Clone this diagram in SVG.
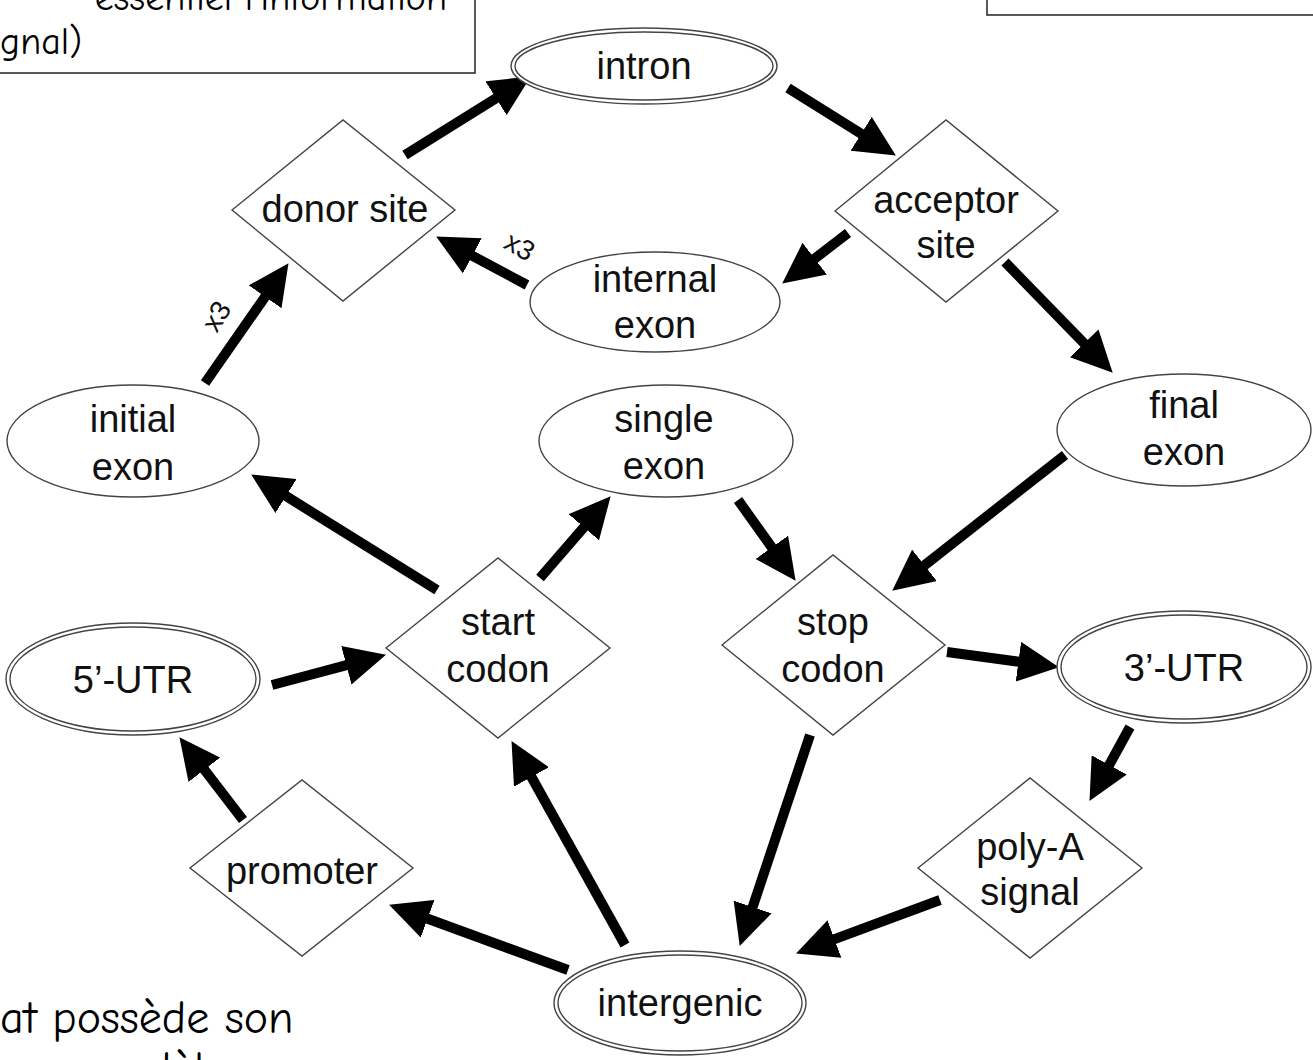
<svg xmlns="http://www.w3.org/2000/svg" width="1313" height="1060" viewBox="0 0 1313 1060">
<style>
.lbl{font-family:"Liberation Sans",Arial,sans-serif;font-size:38px;fill:#111;text-anchor:middle}
.shape{fill:#fff;stroke:#444;stroke-width:1.4}
.edge{stroke:#000;stroke-width:10;fill:none;marker-end:url(#ah)}
.note{font-family:"Comic Sans MS","Comic Neue","DejaVu Sans",sans-serif;font-size:38px;fill:#000}
.big{font-size:46px}
.mult{font-family:"Liberation Sans",Arial,sans-serif;font-size:28px;fill:#111;text-anchor:middle}
</style>
<defs>
<marker id="ah" markerUnits="userSpaceOnUse" markerWidth="42" markerHeight="40" refX="10" refY="20" orient="auto">
<path d="M0,0 L41,20 L0,40 Z" fill="#000"/>
</marker>
</defs>
<rect width="1313" height="1060" fill="#fff"/>
<g id="note-top-left">
<rect x="-2" y="-2" width="477" height="75" fill="#fff" stroke="#222" stroke-width="1.5"/>
<text class="note" x="447" y="10" text-anchor="end">essentiel l'information</text>
<text class="note" x="0" y="54">gnal)</text>
</g>
<g id="note-top-right">
<rect x="987" y="-2" width="330" height="17" fill="#fff" stroke="#222" stroke-width="1.5"/>
</g>
<g id="note-bottom-left">
<text class="note big" x="0" y="1033">at possède son</text>
<text class="note big" x="20" y="1084">un modèle</text>
</g>
<g id="connectors">
<line class="edge" x1="405" y1="155" x2="504.5" y2="92.9"/>
<line class="edge" x1="788" y1="88" x2="869.6" y2="139.1"/>
<line class="edge" x1="848" y1="233" x2="806.8" y2="264.7"/>
<line class="edge" x1="527" y1="285" x2="463.5" y2="251.1"/>
<line class="edge" x1="205" y1="383" x2="270.8" y2="288.6"/>
<line class="edge" x1="1005" y1="262" x2="1091.1" y2="350.5"/>
<line class="edge" x1="437" y1="590" x2="277.5" y2="490.8"/>
<line class="edge" x1="540" y1="578" x2="590.4" y2="519.7"/>
<line class="edge" x1="738" y1="500" x2="777.6" y2="555.5"/>
<line class="edge" x1="1065" y1="455" x2="916.6" y2="571.5"/>
<line class="edge" x1="272" y1="685" x2="356" y2="662.7"/>
<line class="edge" x1="947" y1="652" x2="1028.3" y2="663"/>
<line class="edge" x1="243" y1="820" x2="198.3" y2="761.8"/>
<line class="edge" x1="1130" y1="727" x2="1104.4" y2="773.7"/>
<line class="edge" x1="568" y1="970" x2="418.2" y2="915.3"/>
<line class="edge" x1="625" y1="945" x2="526.6" y2="768.2"/>
<line class="edge" x1="810" y1="735" x2="749.5" y2="916.5"/>
<line class="edge" x1="940" y1="900" x2="825.1" y2="942.6"/>
<text class="mult" transform="translate(216,316) rotate(-58)" y="10">x3</text>
<text class="mult" transform="translate(520,246) rotate(30)" y="10">x3</text>
</g>
<g id="intron">
<ellipse class="shape" cx="644" cy="66" rx="133" ry="38"/>
<ellipse class="shape" cx="644" cy="66" rx="129" ry="34"/>
<text class="lbl" x="644" y="79">intron</text>
</g>
<g id="donor-site">
<polygon class="shape" points="232,210 343,120 455,210 343,301"/>
<text class="lbl" x="345" y="222">donor site</text>
</g>
<g id="acceptor-site">
<polygon class="shape" points="835,211 946,120 1058,211 946,302"/>
<text class="lbl" x="946" y="213">acceptor</text>
<text class="lbl" x="946" y="258">site</text>
</g>
<g id="internal-exon">
<ellipse class="shape" cx="655" cy="302" rx="125" ry="50"/>
<text class="lbl" x="655" y="292">internal</text>
<text class="lbl" x="655" y="338">exon</text>
</g>
<g id="initial-exon">
<ellipse class="shape" cx="133" cy="441" rx="126" ry="56"/>
<text class="lbl" x="133" y="432">initial</text>
<text class="lbl" x="133" y="480">exon</text>
</g>
<g id="single-exon">
<ellipse class="shape" cx="666" cy="441" rx="127" ry="56"/>
<text class="lbl" x="664" y="432">single</text>
<text class="lbl" x="664" y="479">exon</text>
</g>
<g id="final-exon">
<ellipse class="shape" cx="1184" cy="430" rx="127" ry="56"/>
<text class="lbl" x="1184" y="418">final</text>
<text class="lbl" x="1184" y="465">exon</text>
</g>
<g id="start-codon">
<polygon class="shape" points="386,648 498,558 610,648 498,738"/>
<text class="lbl" x="498" y="635">start</text>
<text class="lbl" x="498" y="682">codon</text>
</g>
<g id="stop-codon">
<polygon class="shape" points="722,645 833,555 945,645 833,735"/>
<text class="lbl" x="833" y="635">stop</text>
<text class="lbl" x="833" y="682">codon</text>
</g>
<g id="utr5">
<ellipse class="shape" cx="133" cy="679" rx="127" ry="56"/>
<ellipse class="shape" cx="133" cy="679" rx="123" ry="52"/>
<text class="lbl" x="133" y="693">5’-UTR</text>
</g>
<g id="utr3">
<ellipse class="shape" cx="1184" cy="667" rx="127" ry="56"/>
<ellipse class="shape" cx="1184" cy="667" rx="123" ry="52"/>
<text class="lbl" x="1184" y="681">3’-UTR</text>
</g>
<g id="promoter">
<polygon class="shape" points="190,868 302,780 413,868 302,956"/>
<text class="lbl" x="302" y="884">promoter</text>
</g>
<g id="polya-signal">
<polygon class="shape" points="918,868 1030,778 1142,868 1030,958"/>
<text class="lbl" x="1030" y="860">poly-A</text>
<text class="lbl" x="1030" y="905">signal</text>
</g>
<g id="intergenic">
<ellipse class="shape" cx="680" cy="1003" rx="126" ry="52"/>
<ellipse class="shape" cx="680" cy="1003" rx="122" ry="48"/>
<text class="lbl" x="680" y="1016">intergenic</text>
</g>
</svg>
